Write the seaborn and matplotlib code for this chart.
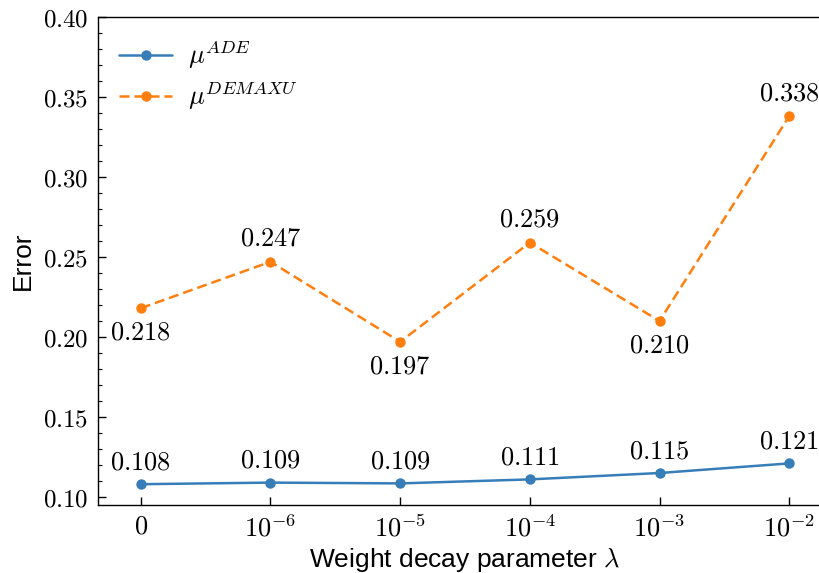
import matplotlib
matplotlib.use("Agg")
import matplotlib.pyplot as plt
from matplotlib.ticker import MultipleLocator, FixedLocator
import seaborn as sns
import pandas as pd

x_labels = ["$0$", "$10^{-6}$", "$10^{-5}$", "$10^{-4}$", "$10^{-3}$", "$10^{-2}$"]
ade = [0.108, 0.109, 0.1085, 0.111, 0.115, 0.121]
ade_text = ["0.108", "0.109", "0.109", "0.111", "0.115", "0.121"]
demaxu = [0.218, 0.247, 0.197, 0.259, 0.210, 0.338]
demaxu_text = ["0.218", "0.247", "0.197", "0.259", "0.210", "0.338"]
demaxu_above = [False, True, False, True, False, True]

sns.set_style("ticks")
plt.rcParams["mathtext.fontset"] = "cm"
plt.rcParams["font.family"] = ["Liberation Sans", "DejaVu Sans"]
plt.rcParams["text.color"] = "black"
plt.rcParams["axes.labelcolor"] = "black"
plt.rcParams["xtick.color"] = "black"
plt.rcParams["ytick.color"] = "black"

fig = plt.figure(figsize=(8.19, 5.73), dpi=100)
ax = fig.add_axes([98/819, 1 - 505/573, (832-98)/819, (505-17)/573])

idx = list(range(len(x_labels)))
df = pd.DataFrame({"x": idx * 2,
                   "y": ade + demaxu,
                   "s": ["$\\mu^{ADE}$"] * 6 + ["$\\mu^{DEMAXU}$"] * 6})
blue = "#377eb8"
orange = "#ff7f0e"
sns.lineplot(data=df, x="x", y="y", hue="s", style="s",
             palette=[blue, orange], markers=["o", "o"],
             dashes=[(None, None), (4, 2)], markersize=7.5, markeredgewidth=0,
             linewidth=1.8, ax=ax)

fs_ann = 19
for i in idx:
    ax.annotate(f"${ade_text[i]}$", (i, ade[i]), xytext=(0, 7), textcoords="offset points",
                ha="center", va="bottom", fontsize=fs_ann, color="black")
    if demaxu_above[i]:
        ax.annotate(f"${demaxu_text[i]}$", (i, demaxu[i]), xytext=(0, 8), textcoords="offset points",
                    ha="center", va="bottom", fontsize=fs_ann, color="black")
    else:
        ax.annotate(f"${demaxu_text[i]}$", (i, demaxu[i]), xytext=(0, -9), textcoords="offset points",
                    ha="center", va="top", fontsize=fs_ann, color="black")

ax.set_xlim(-0.33, 5.33)
ax.set_ylim(0.095, 0.40)
ax.set_xticks(idx)
ax.set_xticklabels(x_labels, fontsize=19)
yt = [0.10, 0.15, 0.20, 0.25, 0.30, 0.35, 0.40]
ax.yaxis.set_major_locator(FixedLocator(yt))
ax.yaxis.set_minor_locator(MultipleLocator(0.01))
ax.set_yticklabels([f"${v:.2f}$" for v in yt], fontsize=18)
ax.tick_params(axis="both", which="major", direction="in", length=6, width=1, pad=7,
               colors="black")
ax.tick_params(axis="y", which="minor", direction="in", length=3, width=0.8, colors="black")
for sp in ax.spines.values():
    sp.set_linewidth(1.0)
    sp.set_color("black")

ax.set_xlabel("Weight decay parameter $\\lambda$", fontsize=19, labelpad=3, color="black")
ax.set_ylabel("Error", fontsize=19, labelpad=6, color="black")

leg = ax.legend(loc="upper left", frameon=False, fontsize=19, handlelength=2.0,
                borderaxespad=0.4, labelspacing=0.3, handletextpad=0.6)
for t in leg.get_texts():
    t.set_color("black")

fig.savefig("out.png", dpi=100)
